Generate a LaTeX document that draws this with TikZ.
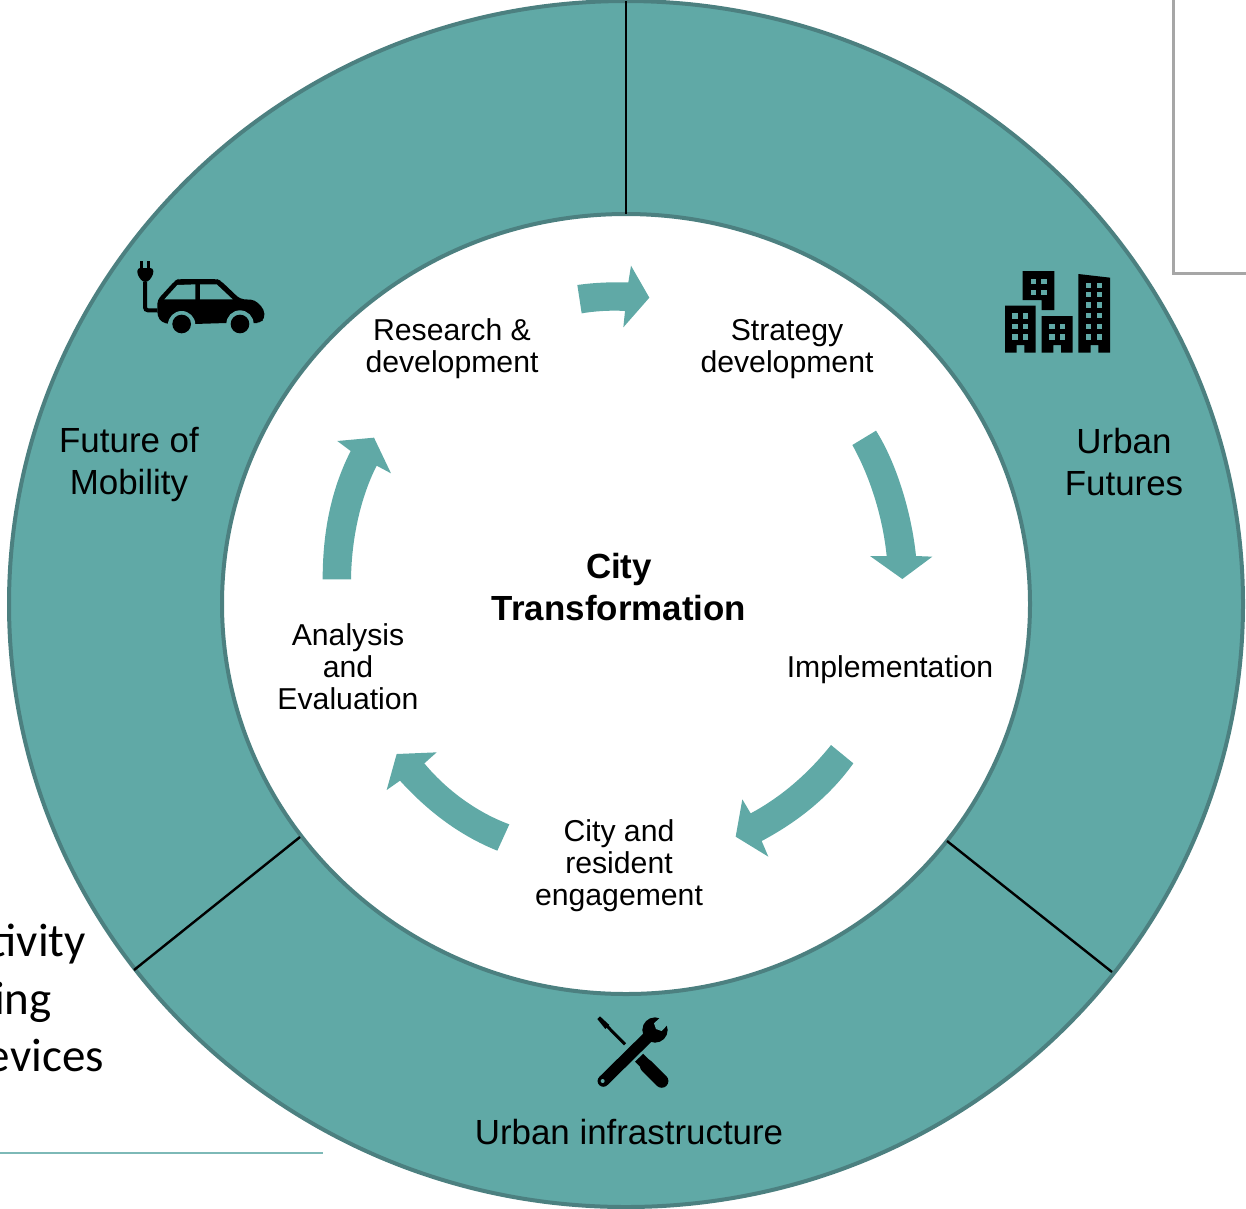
\documentclass[tikz,border=0pt]{standalone}
\usepackage{fontspec}
\setmainfont{Liberation Sans}
\newfontfamily\slidefont{Carlito}
\definecolor{ringfill}{HTML}{60A9A6}
\definecolor{ringedge}{HTML}{4C8080}
\definecolor{greyline}{HTML}{A6A6A6}
\definecolor{paleline}{HTML}{7DB9B7}
\tikzset{
  ring/.style={fill=ringfill,draw=ringedge,line width=4pt,even odd rule},
  divider/.style={draw=black,line width=2.4pt},
  flow/.style={fill=ringfill,draw=none},
  icon/.style={fill=black,draw=none},
  hole/.style={fill=ringfill,draw=none},
  innerlabel/.style={inner sep=0pt,align=center,font=\fontsize{30.2}{32}\selectfont},
  ringlabel/.style={inner sep=0pt,align=center,font=\fontsize{34.9}{42}\selectfont},
  centrelabel/.style={inner sep=0pt,align=center,font=\fontsize{34.9}{42}\selectfont\bfseries},
  slidetext/.style={inner sep=0pt,anchor=base east,font=\fontsize{47}{47}\slidefont},
}
\begin{document}
\begin{tikzpicture}[x=1pt,y=-1pt]
\useasboundingbox (0,0) rectangle (1246,1208);
% background remnants
\coordinate (boxtop) at (1173,0);
\coordinate (boxcorner) at (1173,273);
\coordinate (boxend) at (1246,273);
\draw[greyline,line width=3pt] (boxtop) -- (boxcorner) -- (boxend);
\coordinate (ruleL) at (0,1153);
\coordinate (ruleR) at (323,1153);
\draw[paleline,line width=1.5pt] (ruleL) -- (ruleR);
\node[slidetext] (t1) at (86,956) {tivity};
\node[slidetext] (t2) at (52,1014) {ing};
\node[slidetext] (t3) at (104,1071) {evices};
% ring
\path[ring] (626,604) ellipse [x radius=617,y radius=603] (626,604) ellipse [x radius=404,y radius=390];
\coordinate (d1a) at (626,1);
\coordinate (d1b) at (626,214);
\coordinate (d2a) at (134,970);
\coordinate (d2b) at (300,837);
\coordinate (d3a) at (947,841);
\coordinate (d3b) at (1112,972);
\draw[divider] (d1a) -- (d1b);
\draw[divider] (d2a) -- (d2b);
\draw[divider] (d3a) -- (d3b);
% arrows
\begin{scope}[shift={(560,250)},scale=1/3]
\fill[flow] (52,105) .. controls (100,98) and (150,96) .. (205,97) -- (213,47) -- (268,143) -- (190,232) -- (195,183) .. controls (150,180) and (100,184) .. (65,190) -- cycle;
\end{scope}
\begin{scope}[shift={(840,420)},scale=1/3]
\fill[flow] (37,75) -- (108,32) .. controls (170,130) and (215,280) .. (228,408) -- (277,410) -- (187,477) -- (90,408) -- (140,408) .. controls (128,290) and (90,170) .. (37,75) -- cycle;
\end{scope}
\begin{scope}[shift={(725,735)},scale=1/3]
\fill[flow] (318,30) -- (385,85) .. controls (310,190) and (210,265) .. (110,318) -- (130,365) -- (32,305) -- (52,193) -- (77,235) .. controls (170,185) and (250,115) .. (318,30) -- cycle;
\end{scope}
\begin{scope}[shift={(375,740)},scale=1/3]
\fill[flow] (403,253) -- (367,332) .. controls (250,285) and (155,210) .. (75,122) -- (35,150) -- (65,42) -- (185,37) -- (148,70) .. controls (210,145) and (300,215) .. (403,253) -- cycle;
\end{scope}
\begin{scope}[shift={(310,425)},scale=1/3]
\fill[flow] (38,463) -- (123,463) .. controls (125,320) and (160,200) .. (200,122) -- (243,145) -- (192,38) -- (82,48) -- (122,78) .. controls (60,200) and (38,330) .. (38,463) -- cycle;
\end{scope}
% car icon
\begin{scope}[shift={(120,250)},scale=1/3]
\fill[icon,rounded corners=4pt] (112,150) -- (165,92) -- (175,87) -- (290,87) -- (302,92) -- (360,147) -- (405,150) -- (432,178) -- (434,205) -- (420,219) -- (400,219) -- (320,219) -- (222,222) -- (147,222) -- (125,217) -- (112,198) -- cycle;
\fill[hole] (360,222) circle (41);
\fill[hole] (185,224) circle (41);
\fill[icon] (360,222) circle (28);
\fill[icon] (185,222) circle (28);
\fill[hole] (133,148) -- (172,105) -- (226,103) -- (226,148) -- cycle;
\fill[hole] (240,103) -- (290,103) -- (338,148) -- (240,148) -- cycle;
\fill[icon] (60,33) rectangle (70,58);
\fill[icon] (81,33) rectangle (91,58);
\fill[icon,rounded corners=3pt] (52,54) -- (100,54) -- (100,74) -- (84,96) -- (68,96) -- (52,74) -- cycle;
\draw[black,line width=4pt,rounded corners=3pt] (75,95) -- (75,181) -- (112,181);
\end{scope}
% buildings icon
\begin{scope}[shift={(990,255)},scale=1/3]
\fill[icon] (98,48) -- (193,48) -- (193,165) -- (155,165) -- (155,135) -- (98,135) -- cycle;
\fill[icon] (45,152) -- (137,152) -- (137,293) -- (103,293) -- (103,270) -- (80,270) -- (80,293) -- (45,293) -- cycle;
\fill[icon] (155,183) -- (248,183) -- (248,293) -- (213,293) -- (213,270) -- (190,270) -- (190,293) -- (155,293) -- cycle;
\fill[icon] (265,57) -- (360,68) -- (360,293) -- (325,293) -- (325,270) -- (302,270) -- (302,293) -- (265,293) -- cycle;
\foreach \x in {122,154} \foreach \y in {72,104} \fill[hole] (\x,\y) rectangle ++(16,16);
\foreach \x in {67,98} \foreach \y in {175,207,238} \fill[hole] (\x,\y) rectangle ++(16,16);
\foreach \x in {178,209} \foreach \y in {207,238} \fill[hole] (\x,\y) rectangle ++(16,16);
\foreach \x in {288,320} \foreach \y in {83,110,142,174,206,238} \fill[hole] (\x,\y) rectangle ++(16,16);
\end{scope}
% tools icon
\begin{scope}[shift={(580,1005)},scale=1/3]
\draw[black,line width=3pt] (135,118) -- (68,50);
\fill[icon] (52,42) -- (60,34) -- (88,60) -- (76,72) -- cycle;
\draw[black,line width=13.5pt,line cap=round] (245,228) -- (200,183);
\fill[icon] (165,170) -- (189,146) -- (225,182) -- (201,206) -- cycle;
\draw[ringfill,line width=16.5pt] (50,248) -- (205,95);
\draw[black,line width=11.5pt,line cap=round] (70,228) -- (205,95);
\fill[icon] (225,75) circle (38);
\fill[hole] (240,38) -- (222,55) -- (228,72) -- (245,78) -- (262,60) -- (290,30) -- (260,10) -- cycle;
\fill[hole] (68,228) circle (6);
\end{scope}
% labels
\node[innerlabel] (rd) at (452,349) {Research \&\\development};
\node[innerlabel] (sd) at (787,349) {Strategy\\development};
\node[innerlabel] (im) at (890,670) {Implementation};
\node[innerlabel] (cr) at (619,866) {City and\\resident\\engagement};
\node[innerlabel] (ae) at (348,667) {Analysis\\and\\Evaluation};
\node[centrelabel] (ct) at (619,587) {City\\Transformation};
\node[ringlabel] (fm) at (129,464) {Future of\\Mobility};
\node[ringlabel] (uf) at (1124,462) {Urban\\Futures};
\node[ringlabel] (ui) at (629,1132) {Urban infrastructure};
\end{tikzpicture}
\end{document}
